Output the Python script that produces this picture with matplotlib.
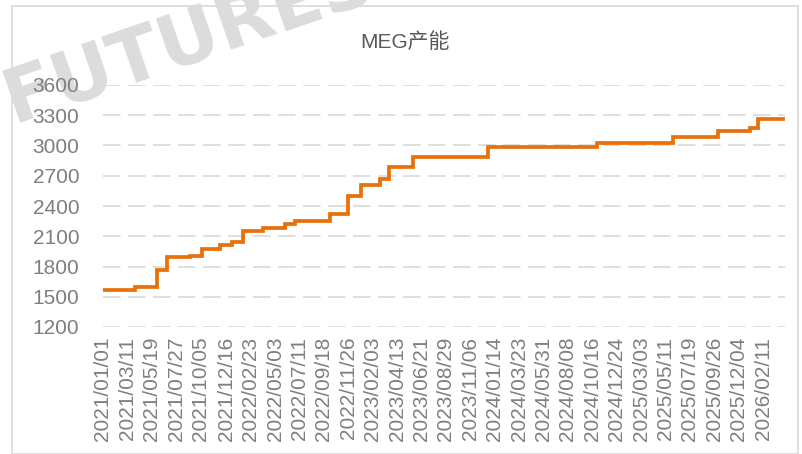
import matplotlib
matplotlib.use("Agg")
import matplotlib.pyplot as plt
from matplotlib.patches import Rectangle
from datetime import datetime

# step dates (capacity change) and MEG capacity values
step_dates = ["2021/01/01", "2021/04/01", "2021/06/03", "2021/07/01", "2021/09/04",
              "2021/10/08", "2021/11/28", "2022/01/01", "2022/02/01", "2022/03/29",
              "2022/05/31", "2022/06/28", "2022/10/05", "2022/11/25", "2022/12/31",
              "2023/02/23", "2023/03/21", "2023/05/27", "2023/12/25", "2024/10/28",
              "2025/05/31", "2025/10/06", "2026/01/04", "2026/01/27", "2026/04/07"]
capacity = [1570, 1600, 1765, 1890, 1907,
            1970, 2010, 2046, 2152, 2179,
            2221, 2251, 2320, 2502, 2608,
            2668, 2784, 2883, 2985, 3025,
            3088, 3147, 3170, 3260, 3260]

tick_labels = ["2021/01/01", "2021/03/11", "2021/05/19", "2021/07/27", "2021/10/05",
               "2021/12/16", "2022/02/23", "2022/05/03", "2022/07/11", "2022/09/18",
               "2022/11/26", "2023/02/03", "2023/04/13", "2023/06/21", "2023/08/29",
               "2023/11/06", "2024/01/14", "2024/03/23", "2024/05/31", "2024/08/08",
               "2024/10/16", "2024/12/24", "2025/03/03", "2025/05/11", "2025/07/19",
               "2025/09/26", "2025/12/04", "2026/02/11"]
y_ticks = [1200, 1500, 1800, 2100, 2400, 2700, 3000, 3300, 3600]

font = ["Liberation Sans", "Noto Sans CJK SC", "DejaVu Sans"]
plt.rcParams["font.family"] = font

W, H = 802, 454
fig = plt.figure(figsize=(W / 100, H / 100), dpi=100)

# outer frame
fig.patches.append(Rectangle((12 / W, 0.5 / H), 786 / W, (H - 6.5) / H,
                             transform=fig.transFigure, fill=False,
                             edgecolor="#D9D9D9", lw=1.2, zorder=-2))

# watermark (behind everything)
fig.text(-6 / W, 1 - 138 / H, "FUTURES", fontsize=54, fontweight="bold",
         family="DejaVu Sans", color="#DCDCDC", rotation=19,
         ha="left", va="bottom", zorder=-1)

ax = fig.add_axes([103 / W, 1 - 327 / H, 682 / W, 242 / H])
ax.patch.set_alpha(0)

x = [datetime.strptime(d, "%Y/%m/%d") for d in step_dates]
ax.step(x, capacity, where="post", color="#E8710A", lw=2.7, zorder=3,
        solid_joinstyle="miter")

ax.set_ylim(1200, 3600)
ax.set_yticks(y_ticks)
ax.set_xlim(x[0], datetime(2026, 4, 14))
ticks = [datetime.strptime(t, "%Y/%m/%d") for t in tick_labels]
ax.set_xticks(ticks)
ax.set_xticklabels(tick_labels, rotation=90)

ax.grid(axis="y", color="#D9D9D9", lw=1.2, linestyle=(0, (10.5, 4.5)))
ax.grid(axis="x", visible=False)
for s in ax.spines.values():
    s.set_visible(False)

ax.tick_params(axis="y", length=0, pad=17, labelsize=15, labelcolor="#7F7F7F")
ax.tick_params(axis="x", length=0, pad=7, labelsize=15, labelcolor="#7F7F7F")

fig.text(405 / W, 1 - 42 / H, "MEG产能", fontsize=15, color="#595959",
         ha="center", va="center")

fig.savefig("out.png", dpi=100)
